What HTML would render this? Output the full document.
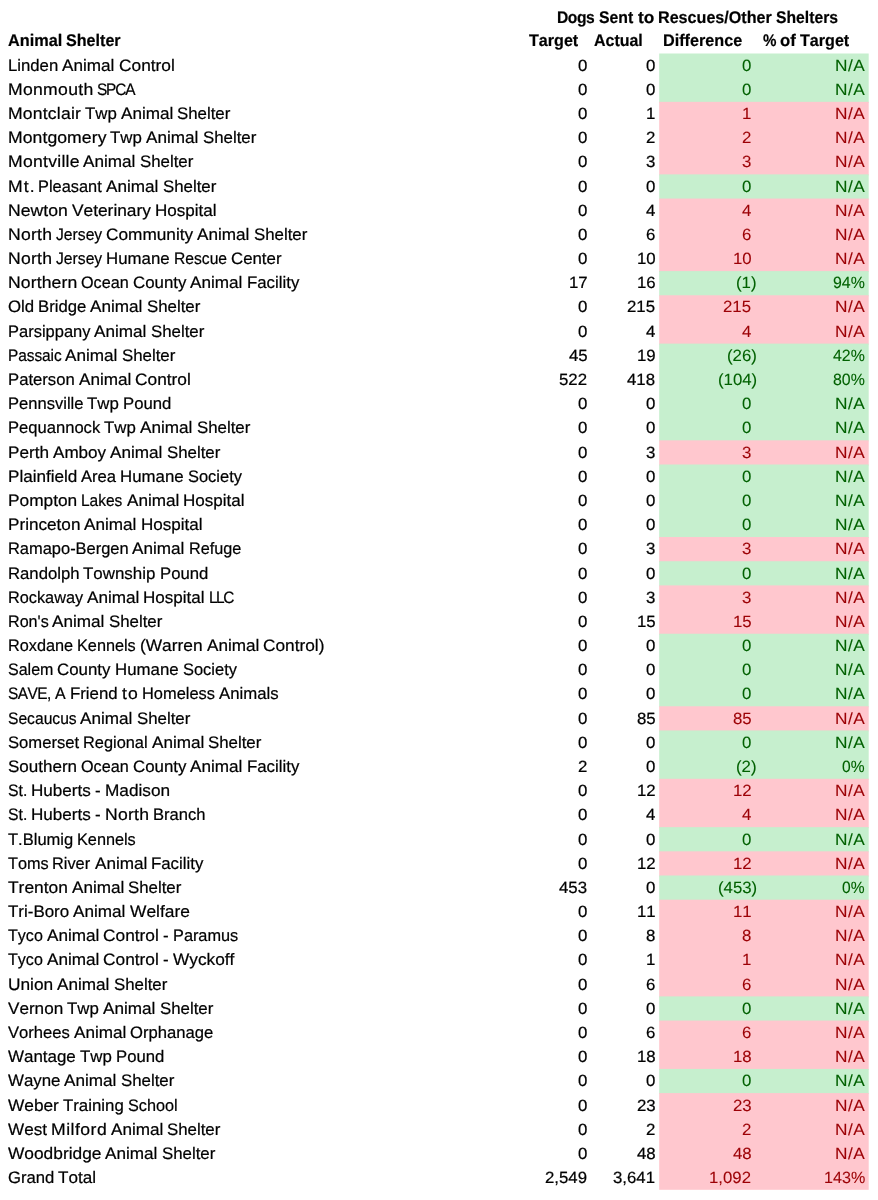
<!DOCTYPE html><html><head><meta charset="utf-8"><title>Dogs Sent to Rescues/Other Shelters</title><style>
html,body{margin:0;padding:0;background:#fff}
body{width:878px;height:1200px;position:relative;overflow:hidden;font-family:"Liberation Sans",sans-serif;font-size:16.6px;color:#000}
.t,.w{position:absolute;white-space:pre;font-kerning:none;line-height:24px;height:24px}
.w{transform-origin:0 50%}
.b{font-weight:bold}
.bg{position:absolute;left:659.2px;width:209.5px}
.g{color:#006100}.r{color:#9C0006}
.n{font-size:16.3px}.b{font-size:16.8px}.w{-webkit-text-stroke:0.22px}.w.b{-webkit-text-stroke:0.2px}.w.g,.w.r{-webkit-text-stroke:0.1px}#all{position:absolute;left:0;top:0;width:878px;height:1200px}#tx{position:absolute;left:0;top:0;width:878px;height:1200px;will-change:transform;text-rendering:geometricPrecision}</style></head><body>
<div id="all">
<svg id="bg" width="878" height="1200" viewBox="0 0 878 1200" style="position:absolute;left:0;top:0">
<rect x="659.2" y="53.50" width="209.5" height="49.35" fill="#C6EFCE"/>
<rect x="659.2" y="101.85" width="209.5" height="73.53" fill="#FFC7CE"/>
<rect x="659.2" y="174.38" width="209.5" height="25.18" fill="#C6EFCE"/>
<rect x="659.2" y="198.56" width="209.5" height="73.53" fill="#FFC7CE"/>
<rect x="659.2" y="271.09" width="209.5" height="25.18" fill="#C6EFCE"/>
<rect x="659.2" y="295.27" width="209.5" height="49.35" fill="#FFC7CE"/>
<rect x="659.2" y="343.62" width="209.5" height="97.71" fill="#C6EFCE"/>
<rect x="659.2" y="440.33" width="209.5" height="25.18" fill="#FFC7CE"/>
<rect x="659.2" y="464.50" width="209.5" height="73.53" fill="#C6EFCE"/>
<rect x="659.2" y="537.03" width="209.5" height="25.18" fill="#FFC7CE"/>
<rect x="659.2" y="561.21" width="209.5" height="25.18" fill="#C6EFCE"/>
<rect x="659.2" y="585.39" width="209.5" height="49.35" fill="#FFC7CE"/>
<rect x="659.2" y="633.74" width="209.5" height="73.53" fill="#C6EFCE"/>
<rect x="659.2" y="706.27" width="209.5" height="25.18" fill="#FFC7CE"/>
<rect x="659.2" y="730.44" width="209.5" height="49.35" fill="#C6EFCE"/>
<rect x="659.2" y="778.80" width="209.5" height="49.35" fill="#FFC7CE"/>
<rect x="659.2" y="827.15" width="209.5" height="25.18" fill="#C6EFCE"/>
<rect x="659.2" y="851.33" width="209.5" height="25.18" fill="#FFC7CE"/>
<rect x="659.2" y="875.50" width="209.5" height="25.18" fill="#C6EFCE"/>
<rect x="659.2" y="899.68" width="209.5" height="97.71" fill="#FFC7CE"/>
<rect x="659.2" y="996.39" width="209.5" height="25.18" fill="#C6EFCE"/>
<rect x="659.2" y="1020.56" width="209.5" height="49.35" fill="#FFC7CE"/>
<rect x="659.2" y="1068.92" width="209.5" height="25.18" fill="#C6EFCE"/>
<rect x="659.2" y="1093.09" width="209.5" height="96.71" fill="#FFC7CE"/>
</svg>
<div id="tx">
<span class="w b" style="left:557.39px;top:6.00px;letter-spacing:-0.493px;transform:scaleX(0.9300)">Dogs</span>
<span class="w b" style="left:599.20px;top:6.00px;transform:scaleX(0.9429)">Sent</span>
<span class="w b" style="left:637.67px;top:6.00px;transform:scaleX(1.0296)">to</span>
<span class="w b" style="left:658.16px;top:6.00px;transform:scaleX(0.9606)">Rescues/Other</span>
<span class="w b" style="left:776.11px;top:6.00px;transform:scaleX(0.9363)">Shelters</span>
<span class="w b" style="left:7.59px;top:29.47px;transform:scaleX(0.9693)">Animal</span>
<span class="w b" style="left:66.00px;top:29.47px;transform:scaleX(0.9605)">Shelter</span>
<span class="w b" style="left:528.89px;top:29.47px;transform:scaleX(0.9592)">Target</span>
<span class="w b" style="left:594.00px;top:29.47px;transform:scaleX(0.9516)">Actual</span>
<span class="w b" style="left:663.00px;top:29.47px;transform:scaleX(0.9654)">Difference</span>
<span class="w b" style="left:762.69px;top:29.47px;transform:scaleX(0.9016)">%</span>
<span class="w b" style="left:780.31px;top:29.47px;transform:scaleX(0.9941)">of</span>
<span class="w b" style="left:800.23px;top:29.47px;transform:scaleX(0.9592)">Target</span>
<span class="w" style="left:7.59px;top:53.65px;transform:scaleX(1.0075)">Linden</span>
<span class="w" style="left:61.98px;top:53.65px;transform:scaleX(1.0326)">Animal</span>
<span class="w" style="left:118.55px;top:53.65px;transform:scaleX(1.0432)">Control</span>
<span class="w n" style="left:578.05px;top:53.65px;transform:scaleX(1.0328)">0</span>
<span class="w n" style="left:645.84px;top:53.65px;transform:scaleX(1.0328)">0</span>
<span class="w n g" style="left:741.95px;top:53.65px;transform:scaleX(1.0328)">0</span>
<span class="w n g" style="left:835.30px;top:53.65px;letter-spacing:0.433px;transform:scaleX(1.0600)">N/A</span>
<span class="w" style="left:7.59px;top:77.83px;letter-spacing:0.280px;transform:scaleX(1.0600)">Monmouth</span>
<span class="w" style="left:96.95px;top:77.83px;letter-spacing:-1.263px;transform:scaleX(0.9300)">SPCA</span>
<span class="w n" style="left:578.05px;top:77.83px;transform:scaleX(1.0328)">0</span>
<span class="w n" style="left:645.84px;top:77.83px;transform:scaleX(1.0328)">0</span>
<span class="w n g" style="left:741.95px;top:77.83px;transform:scaleX(1.0328)">0</span>
<span class="w n g" style="left:835.30px;top:77.83px;letter-spacing:0.433px;transform:scaleX(1.0600)">N/A</span>
<span class="w" style="left:7.59px;top:102.02px;letter-spacing:0.178px;transform:scaleX(1.0600)">Montclair</span>
<span class="w" style="left:84.64px;top:102.02px;transform:scaleX(1.0159)">Twp</span>
<span class="w" style="left:120.67px;top:102.02px;transform:scaleX(1.0326)">Animal</span>
<span class="w" style="left:177.23px;top:102.02px;transform:scaleX(1.0146)">Shelter</span>
<span class="w n" style="left:578.05px;top:102.02px;transform:scaleX(1.0328)">0</span>
<span class="w n" style="left:645.84px;top:102.02px;transform:scaleX(1.0328)">1</span>
<span class="w n r" style="left:741.95px;top:102.02px;transform:scaleX(1.0328)">1</span>
<span class="w n r" style="left:835.30px;top:102.02px;letter-spacing:0.433px;transform:scaleX(1.0600)">N/A</span>
<span class="w" style="left:7.59px;top:126.20px;letter-spacing:0.070px;transform:scaleX(1.0600)">Montgomery</span>
<span class="w" style="left:110.20px;top:126.20px;transform:scaleX(1.0159)">Twp</span>
<span class="w" style="left:146.23px;top:126.20px;transform:scaleX(1.0326)">Animal</span>
<span class="w" style="left:202.80px;top:126.20px;transform:scaleX(1.0146)">Shelter</span>
<span class="w n" style="left:578.05px;top:126.20px;transform:scaleX(1.0328)">0</span>
<span class="w n" style="left:645.84px;top:126.20px;transform:scaleX(1.0328)">2</span>
<span class="w n r" style="left:741.95px;top:126.20px;transform:scaleX(1.0328)">2</span>
<span class="w n r" style="left:835.30px;top:126.20px;letter-spacing:0.433px;transform:scaleX(1.0600)">N/A</span>
<span class="w" style="left:7.59px;top:150.39px;letter-spacing:0.252px;transform:scaleX(1.0600)">Montville</span>
<span class="w" style="left:83.31px;top:150.39px;transform:scaleX(1.0326)">Animal</span>
<span class="w" style="left:139.88px;top:150.39px;transform:scaleX(1.0146)">Shelter</span>
<span class="w n" style="left:578.05px;top:150.39px;transform:scaleX(1.0328)">0</span>
<span class="w n" style="left:645.84px;top:150.39px;transform:scaleX(1.0328)">3</span>
<span class="w n r" style="left:741.95px;top:150.39px;transform:scaleX(1.0328)">3</span>
<span class="w n r" style="left:835.30px;top:150.39px;letter-spacing:0.433px;transform:scaleX(1.0600)">N/A</span>
<span class="w" style="left:7.59px;top:174.57px;letter-spacing:1.028px;transform:scaleX(1.0600)">Mt.</span>
<span class="w" style="left:38.38px;top:174.57px;transform:scaleX(0.9860)">Pleasant</span>
<span class="w" style="left:106.22px;top:174.57px;transform:scaleX(1.0326)">Animal</span>
<span class="w" style="left:162.78px;top:174.57px;transform:scaleX(1.0146)">Shelter</span>
<span class="w n" style="left:578.05px;top:174.57px;transform:scaleX(1.0328)">0</span>
<span class="w n" style="left:645.84px;top:174.57px;transform:scaleX(1.0328)">0</span>
<span class="w n g" style="left:741.95px;top:174.57px;transform:scaleX(1.0328)">0</span>
<span class="w n g" style="left:835.30px;top:174.57px;letter-spacing:0.433px;transform:scaleX(1.0600)">N/A</span>
<span class="w" style="left:7.59px;top:198.76px;letter-spacing:0.038px;transform:scaleX(1.0600)">Newton</span>
<span class="w" style="left:71.61px;top:198.76px;transform:scaleX(1.0436)">Veterinary</span>
<span class="w" style="left:154.72px;top:198.76px;transform:scaleX(1.0274)">Hospital</span>
<span class="w n" style="left:578.05px;top:198.76px;transform:scaleX(1.0328)">0</span>
<span class="w n" style="left:645.84px;top:198.76px;transform:scaleX(1.0328)">4</span>
<span class="w n r" style="left:741.95px;top:198.76px;transform:scaleX(1.0328)">4</span>
<span class="w n r" style="left:835.30px;top:198.76px;letter-spacing:0.433px;transform:scaleX(1.0600)">N/A</span>
<span class="w" style="left:7.59px;top:222.94px;letter-spacing:0.214px;transform:scaleX(1.0600)">North</span>
<span class="w" style="left:55.69px;top:222.94px;transform:scaleX(0.9457)">Jersey</span>
<span class="w" style="left:106.08px;top:222.94px;transform:scaleX(1.0384)">Community</span>
<span class="w" style="left:197.39px;top:222.94px;transform:scaleX(1.0326)">Animal</span>
<span class="w" style="left:253.95px;top:222.94px;transform:scaleX(1.0146)">Shelter</span>
<span class="w n" style="left:578.05px;top:222.94px;transform:scaleX(1.0328)">0</span>
<span class="w n" style="left:645.84px;top:222.94px;transform:scaleX(1.0328)">6</span>
<span class="w n r" style="left:741.95px;top:222.94px;transform:scaleX(1.0328)">6</span>
<span class="w n r" style="left:835.30px;top:222.94px;letter-spacing:0.433px;transform:scaleX(1.0600)">N/A</span>
<span class="w" style="left:7.59px;top:247.12px;letter-spacing:0.214px;transform:scaleX(1.0600)">North</span>
<span class="w" style="left:55.69px;top:247.12px;transform:scaleX(0.9457)">Jersey</span>
<span class="w" style="left:106.08px;top:247.12px;transform:scaleX(1.0139)">Humane</span>
<span class="w" style="left:173.86px;top:247.12px;transform:scaleX(0.9431)">Rescue</span>
<span class="w" style="left:231.09px;top:247.12px;transform:scaleX(1.0135)">Center</span>
<span class="w n" style="left:578.05px;top:247.12px;transform:scaleX(1.0328)">0</span>
<span class="w n" style="left:636.50px;top:247.12px;transform:scaleX(1.0319)">10</span>
<span class="w n r" style="left:732.61px;top:247.12px;transform:scaleX(1.0319)">10</span>
<span class="w n r" style="left:835.30px;top:247.12px;letter-spacing:0.433px;transform:scaleX(1.0600)">N/A</span>
<span class="w" style="left:7.59px;top:271.31px;letter-spacing:0.105px;transform:scaleX(1.0600)">Northern</span>
<span class="w" style="left:80.98px;top:271.31px;transform:scaleX(0.9757)">Ocean</span>
<span class="w" style="left:132.86px;top:271.31px;transform:scaleX(1.0166)">County</span>
<span class="w" style="left:190.48px;top:271.31px;transform:scaleX(1.0326)">Animal</span>
<span class="w" style="left:247.05px;top:271.31px;transform:scaleX(1.0133)">Facility</span>
<span class="w n" style="left:568.70px;top:271.31px;transform:scaleX(1.0319)">17</span>
<span class="w n" style="left:636.50px;top:271.31px;transform:scaleX(1.0319)">16</span>
<span class="w n g" style="left:736.38px;top:271.31px;transform:scaleX(1.0314)">(1)</span>
<span class="w n g" style="left:833.12px;top:271.31px;transform:scaleX(0.9779)">94%</span>
<span class="w" style="left:7.59px;top:295.49px;transform:scaleX(1.0121)">Old</span>
<span class="w" style="left:37.91px;top:295.49px;transform:scaleX(1.0055)">Bridge</span>
<span class="w" style="left:90.31px;top:295.49px;transform:scaleX(1.0326)">Animal</span>
<span class="w" style="left:146.88px;top:295.49px;transform:scaleX(1.0146)">Shelter</span>
<span class="w n" style="left:578.05px;top:295.49px;transform:scaleX(1.0328)">0</span>
<span class="w n" style="left:627.16px;top:295.49px;transform:scaleX(1.0322)">215</span>
<span class="w n r" style="left:723.27px;top:295.49px;transform:scaleX(1.0322)">215</span>
<span class="w n r" style="left:835.30px;top:295.49px;letter-spacing:0.433px;transform:scaleX(1.0600)">N/A</span>
<span class="w" style="left:7.59px;top:319.68px;transform:scaleX(0.9932)">Parsippany</span>
<span class="w" style="left:94.23px;top:319.68px;transform:scaleX(1.0326)">Animal</span>
<span class="w" style="left:150.80px;top:319.68px;transform:scaleX(1.0146)">Shelter</span>
<span class="w n" style="left:578.05px;top:319.68px;transform:scaleX(1.0328)">0</span>
<span class="w n" style="left:645.84px;top:319.68px;transform:scaleX(1.0328)">4</span>
<span class="w n r" style="left:741.95px;top:319.68px;transform:scaleX(1.0328)">4</span>
<span class="w n r" style="left:835.30px;top:319.68px;letter-spacing:0.433px;transform:scaleX(1.0600)">N/A</span>
<span class="w" style="left:7.59px;top:343.86px;letter-spacing:-0.072px;transform:scaleX(0.9300)">Passaic</span>
<span class="w" style="left:65.41px;top:343.86px;transform:scaleX(1.0326)">Animal</span>
<span class="w" style="left:121.97px;top:343.86px;transform:scaleX(1.0146)">Shelter</span>
<span class="w n" style="left:568.70px;top:343.86px;transform:scaleX(1.0319)">45</span>
<span class="w n" style="left:636.50px;top:343.86px;transform:scaleX(1.0319)">19</span>
<span class="w n g" style="left:727.03px;top:343.86px;transform:scaleX(1.0313)">(26)</span>
<span class="w n g" style="left:833.12px;top:343.86px;transform:scaleX(0.9779)">42%</span>
<span class="w" style="left:7.59px;top:368.04px;transform:scaleX(1.0052)">Paterson</span>
<span class="w" style="left:78.53px;top:368.04px;transform:scaleX(1.0326)">Animal</span>
<span class="w" style="left:135.09px;top:368.04px;transform:scaleX(1.0432)">Control</span>
<span class="w n" style="left:559.36px;top:368.04px;transform:scaleX(1.0322)">522</span>
<span class="w n" style="left:627.16px;top:368.04px;transform:scaleX(1.0322)">418</span>
<span class="w n g" style="left:717.69px;top:368.04px;transform:scaleX(1.0316)">(104)</span>
<span class="w n g" style="left:833.12px;top:368.04px;transform:scaleX(0.9779)">80%</span>
<span class="w" style="left:7.59px;top:392.23px;transform:scaleX(0.9979)">Pennsville</span>
<span class="w" style="left:87.25px;top:392.23px;transform:scaleX(1.0159)">Twp</span>
<span class="w" style="left:123.28px;top:392.23px;transform:scaleX(1.0068)">Pound</span>
<span class="w n" style="left:578.05px;top:392.23px;transform:scaleX(1.0328)">0</span>
<span class="w n" style="left:645.84px;top:392.23px;transform:scaleX(1.0328)">0</span>
<span class="w n g" style="left:741.95px;top:392.23px;transform:scaleX(1.0328)">0</span>
<span class="w n g" style="left:835.30px;top:392.23px;letter-spacing:0.433px;transform:scaleX(1.0600)">N/A</span>
<span class="w" style="left:7.59px;top:416.41px;transform:scaleX(0.9992)">Pequannock</span>
<span class="w" style="left:103.95px;top:416.41px;transform:scaleX(1.0159)">Twp</span>
<span class="w" style="left:139.98px;top:416.41px;transform:scaleX(1.0326)">Animal</span>
<span class="w" style="left:196.55px;top:416.41px;transform:scaleX(1.0146)">Shelter</span>
<span class="w n" style="left:578.05px;top:416.41px;transform:scaleX(1.0328)">0</span>
<span class="w n" style="left:645.84px;top:416.41px;transform:scaleX(1.0328)">0</span>
<span class="w n g" style="left:741.95px;top:416.41px;transform:scaleX(1.0328)">0</span>
<span class="w n g" style="left:835.30px;top:416.41px;letter-spacing:0.433px;transform:scaleX(1.0600)">N/A</span>
<span class="w" style="left:7.59px;top:440.60px;transform:scaleX(1.0335)">Perth</span>
<span class="w" style="left:52.77px;top:440.60px;transform:scaleX(1.0290)">Amboy</span>
<span class="w" style="left:110.09px;top:440.60px;transform:scaleX(1.0326)">Animal</span>
<span class="w" style="left:166.66px;top:440.60px;transform:scaleX(1.0146)">Shelter</span>
<span class="w n" style="left:578.05px;top:440.60px;transform:scaleX(1.0328)">0</span>
<span class="w n" style="left:645.84px;top:440.60px;transform:scaleX(1.0328)">3</span>
<span class="w n r" style="left:741.95px;top:440.60px;transform:scaleX(1.0328)">3</span>
<span class="w n r" style="left:835.30px;top:440.60px;letter-spacing:0.433px;transform:scaleX(1.0600)">N/A</span>
<span class="w" style="left:7.59px;top:464.78px;transform:scaleX(1.0299)">Plainfield</span>
<span class="w" style="left:81.12px;top:464.78px;transform:scaleX(1.0013)">Area</span>
<span class="w" style="left:120.41px;top:464.78px;transform:scaleX(1.0139)">Humane</span>
<span class="w" style="left:188.19px;top:464.78px;transform:scaleX(0.9908)">Society</span>
<span class="w n" style="left:578.05px;top:464.78px;transform:scaleX(1.0328)">0</span>
<span class="w n" style="left:645.84px;top:464.78px;transform:scaleX(1.0328)">0</span>
<span class="w n g" style="left:741.95px;top:464.78px;transform:scaleX(1.0328)">0</span>
<span class="w n g" style="left:835.30px;top:464.78px;letter-spacing:0.433px;transform:scaleX(1.0600)">N/A</span>
<span class="w" style="left:7.59px;top:488.97px;transform:scaleX(1.0426)">Pompton</span>
<span class="w" style="left:81.02px;top:488.97px;transform:scaleX(0.9340)">Lakes</span>
<span class="w" style="left:126.55px;top:488.97px;transform:scaleX(1.0326)">Animal</span>
<span class="w" style="left:183.11px;top:488.97px;transform:scaleX(1.0274)">Hospital</span>
<span class="w n" style="left:578.05px;top:488.97px;transform:scaleX(1.0328)">0</span>
<span class="w n" style="left:645.84px;top:488.97px;transform:scaleX(1.0328)">0</span>
<span class="w n g" style="left:741.95px;top:488.97px;transform:scaleX(1.0328)">0</span>
<span class="w n g" style="left:835.30px;top:488.97px;letter-spacing:0.433px;transform:scaleX(1.0600)">N/A</span>
<span class="w" style="left:7.59px;top:513.15px;transform:scaleX(1.0332)">Princeton</span>
<span class="w" style="left:84.20px;top:513.15px;transform:scaleX(1.0326)">Animal</span>
<span class="w" style="left:140.77px;top:513.15px;transform:scaleX(1.0274)">Hospital</span>
<span class="w n" style="left:578.05px;top:513.15px;transform:scaleX(1.0328)">0</span>
<span class="w n" style="left:645.84px;top:513.15px;transform:scaleX(1.0328)">0</span>
<span class="w n g" style="left:741.95px;top:513.15px;transform:scaleX(1.0328)">0</span>
<span class="w n g" style="left:835.30px;top:513.15px;letter-spacing:0.433px;transform:scaleX(1.0600)">N/A</span>
<span class="w" style="left:7.59px;top:537.33px;transform:scaleX(0.9908)">Ramapo-Bergen</span>
<span class="w" style="left:132.41px;top:537.33px;transform:scaleX(1.0326)">Animal</span>
<span class="w" style="left:188.97px;top:537.33px;transform:scaleX(0.9784)">Refuge</span>
<span class="w n" style="left:578.05px;top:537.33px;transform:scaleX(1.0328)">0</span>
<span class="w n" style="left:645.84px;top:537.33px;transform:scaleX(1.0328)">3</span>
<span class="w n r" style="left:741.95px;top:537.33px;transform:scaleX(1.0328)">3</span>
<span class="w n r" style="left:835.30px;top:537.33px;letter-spacing:0.433px;transform:scaleX(1.0600)">N/A</span>
<span class="w" style="left:7.59px;top:561.52px;transform:scaleX(1.0070)">Randolph</span>
<span class="w" style="left:83.31px;top:561.52px;transform:scaleX(1.0191)">Township</span>
<span class="w" style="left:159.88px;top:561.52px;transform:scaleX(1.0068)">Pound</span>
<span class="w n" style="left:578.05px;top:561.52px;transform:scaleX(1.0328)">0</span>
<span class="w n" style="left:645.84px;top:561.52px;transform:scaleX(1.0328)">0</span>
<span class="w n g" style="left:741.95px;top:561.52px;transform:scaleX(1.0328)">0</span>
<span class="w n g" style="left:835.30px;top:561.52px;letter-spacing:0.433px;transform:scaleX(1.0600)">N/A</span>
<span class="w" style="left:7.59px;top:585.70px;transform:scaleX(0.9812)">Rockaway</span>
<span class="w" style="left:86.88px;top:585.70px;transform:scaleX(1.0326)">Animal</span>
<span class="w" style="left:143.44px;top:585.70px;transform:scaleX(1.0274)">Hospital</span>
<span class="w" style="left:209.20px;top:585.70px;letter-spacing:-1.601px;transform:scaleX(0.9300)">LLC</span>
<span class="w n" style="left:578.05px;top:585.70px;transform:scaleX(1.0328)">0</span>
<span class="w n" style="left:645.84px;top:585.70px;transform:scaleX(1.0328)">3</span>
<span class="w n r" style="left:741.95px;top:585.70px;transform:scaleX(1.0328)">3</span>
<span class="w n r" style="left:835.30px;top:585.70px;letter-spacing:0.433px;transform:scaleX(1.0600)">N/A</span>
<span class="w" style="left:7.59px;top:609.89px;transform:scaleX(0.9713)">Ron's</span>
<span class="w" style="left:52.47px;top:609.89px;transform:scaleX(1.0326)">Animal</span>
<span class="w" style="left:109.03px;top:609.89px;transform:scaleX(1.0146)">Shelter</span>
<span class="w n" style="left:578.05px;top:609.89px;transform:scaleX(1.0328)">0</span>
<span class="w n" style="left:636.50px;top:609.89px;transform:scaleX(1.0319)">15</span>
<span class="w n r" style="left:732.61px;top:609.89px;transform:scaleX(1.0319)">15</span>
<span class="w n r" style="left:835.30px;top:609.89px;letter-spacing:0.433px;transform:scaleX(1.0600)">N/A</span>
<span class="w" style="left:7.59px;top:634.07px;transform:scaleX(0.9800)">Roxdane</span>
<span class="w" style="left:76.88px;top:634.07px;transform:scaleX(0.9797)">Kennels</span>
<span class="w" style="left:139.80px;top:634.07px;transform:scaleX(1.0435)">(Warren</span>
<span class="w" style="left:206.52px;top:634.07px;transform:scaleX(1.0326)">Animal</span>
<span class="w" style="left:263.08px;top:634.07px;transform:scaleX(1.0400)">Control)</span>
<span class="w n" style="left:578.05px;top:634.07px;transform:scaleX(1.0328)">0</span>
<span class="w n" style="left:645.84px;top:634.07px;transform:scaleX(1.0328)">0</span>
<span class="w n g" style="left:741.95px;top:634.07px;transform:scaleX(1.0328)">0</span>
<span class="w n g" style="left:835.30px;top:634.07px;letter-spacing:0.433px;transform:scaleX(1.0600)">N/A</span>
<span class="w" style="left:7.59px;top:658.26px;transform:scaleX(0.9658)">Salem</span>
<span class="w" style="left:57.20px;top:658.26px;transform:scaleX(1.0166)">County</span>
<span class="w" style="left:114.83px;top:658.26px;transform:scaleX(1.0139)">Humane</span>
<span class="w" style="left:182.61px;top:658.26px;transform:scaleX(0.9908)">Society</span>
<span class="w n" style="left:578.05px;top:658.26px;transform:scaleX(1.0328)">0</span>
<span class="w n" style="left:645.84px;top:658.26px;transform:scaleX(1.0328)">0</span>
<span class="w n g" style="left:741.95px;top:658.26px;transform:scaleX(1.0328)">0</span>
<span class="w n g" style="left:835.30px;top:658.26px;letter-spacing:0.433px;transform:scaleX(1.0600)">N/A</span>
<span class="w" style="left:7.59px;top:682.44px;letter-spacing:-0.605px;transform:scaleX(0.9300)">SAVE,</span>
<span class="w" style="left:54.98px;top:682.44px;transform:scaleX(0.9633)">A</span>
<span class="w" style="left:69.83px;top:682.44px;transform:scaleX(1.0136)">Friend</span>
<span class="w" style="left:121.69px;top:682.44px;letter-spacing:1.162px;transform:scaleX(1.0600)">to</span>
<span class="w" style="left:141.77px;top:682.44px;transform:scaleX(0.9888)">Homeless</span>
<span class="w" style="left:218.89px;top:682.44px;transform:scaleX(1.0095)">Animals</span>
<span class="w n" style="left:578.05px;top:682.44px;transform:scaleX(1.0328)">0</span>
<span class="w n" style="left:645.84px;top:682.44px;transform:scaleX(1.0328)">0</span>
<span class="w n g" style="left:741.95px;top:682.44px;transform:scaleX(1.0328)">0</span>
<span class="w n g" style="left:835.30px;top:682.44px;letter-spacing:0.433px;transform:scaleX(1.0600)">N/A</span>
<span class="w" style="left:7.59px;top:706.62px;transform:scaleX(0.9421)">Secaucus</span>
<span class="w" style="left:80.42px;top:706.62px;transform:scaleX(1.0326)">Animal</span>
<span class="w" style="left:136.98px;top:706.62px;transform:scaleX(1.0146)">Shelter</span>
<span class="w n" style="left:578.05px;top:706.62px;transform:scaleX(1.0328)">0</span>
<span class="w n" style="left:636.50px;top:706.62px;transform:scaleX(1.0319)">85</span>
<span class="w n r" style="left:732.61px;top:706.62px;transform:scaleX(1.0319)">85</span>
<span class="w n r" style="left:835.30px;top:706.62px;letter-spacing:0.433px;transform:scaleX(1.0600)">N/A</span>
<span class="w" style="left:7.59px;top:730.81px;transform:scaleX(1.0011)">Somerset</span>
<span class="w" style="left:82.86px;top:730.81px;transform:scaleX(0.9859)">Regional</span>
<span class="w" style="left:151.61px;top:730.81px;transform:scaleX(1.0326)">Animal</span>
<span class="w" style="left:208.17px;top:730.81px;transform:scaleX(1.0146)">Shelter</span>
<span class="w n" style="left:578.05px;top:730.81px;transform:scaleX(1.0328)">0</span>
<span class="w n" style="left:645.84px;top:730.81px;transform:scaleX(1.0328)">0</span>
<span class="w n g" style="left:741.95px;top:730.81px;transform:scaleX(1.0328)">0</span>
<span class="w n g" style="left:835.30px;top:730.81px;letter-spacing:0.433px;transform:scaleX(1.0600)">N/A</span>
<span class="w" style="left:7.59px;top:754.99px;transform:scaleX(1.0251)">Southern</span>
<span class="w" style="left:80.81px;top:754.99px;transform:scaleX(0.9757)">Ocean</span>
<span class="w" style="left:132.69px;top:754.99px;transform:scaleX(1.0166)">County</span>
<span class="w" style="left:190.31px;top:754.99px;transform:scaleX(1.0326)">Animal</span>
<span class="w" style="left:246.88px;top:754.99px;transform:scaleX(1.0133)">Facility</span>
<span class="w n" style="left:578.05px;top:754.99px;transform:scaleX(1.0328)">2</span>
<span class="w n" style="left:645.84px;top:754.99px;transform:scaleX(1.0328)">0</span>
<span class="w n g" style="left:736.38px;top:754.99px;transform:scaleX(1.0314)">(2)</span>
<span class="w n g" style="left:842.47px;top:754.99px;transform:scaleX(0.9569)">0%</span>
<span class="w" style="left:7.59px;top:779.18px;transform:scaleX(0.9515)">St.</span>
<span class="w" style="left:31.08px;top:779.18px;transform:scaleX(1.0301)">Huberts</span>
<span class="w" style="left:95.11px;top:779.18px;transform:scaleX(1.0226)">-</span>
<span class="w" style="left:104.94px;top:779.18px;transform:scaleX(1.0384)">Madison</span>
<span class="w n" style="left:578.05px;top:779.18px;transform:scaleX(1.0328)">0</span>
<span class="w n" style="left:636.50px;top:779.18px;transform:scaleX(1.0319)">12</span>
<span class="w n r" style="left:732.61px;top:779.18px;transform:scaleX(1.0319)">12</span>
<span class="w n r" style="left:835.30px;top:779.18px;letter-spacing:0.433px;transform:scaleX(1.0600)">N/A</span>
<span class="w" style="left:7.59px;top:803.36px;transform:scaleX(0.9515)">St.</span>
<span class="w" style="left:31.08px;top:803.36px;transform:scaleX(1.0301)">Huberts</span>
<span class="w" style="left:95.11px;top:803.36px;transform:scaleX(1.0226)">-</span>
<span class="w" style="left:104.94px;top:803.36px;letter-spacing:0.214px;transform:scaleX(1.0600)">North</span>
<span class="w" style="left:153.03px;top:803.36px;transform:scaleX(0.9979)">Branch</span>
<span class="w n" style="left:578.05px;top:803.36px;transform:scaleX(1.0328)">0</span>
<span class="w n" style="left:645.84px;top:803.36px;transform:scaleX(1.0328)">4</span>
<span class="w n r" style="left:741.95px;top:803.36px;transform:scaleX(1.0328)">4</span>
<span class="w n r" style="left:835.30px;top:803.36px;letter-spacing:0.433px;transform:scaleX(1.0600)">N/A</span>
<span class="w" style="left:7.59px;top:827.54px;transform:scaleX(0.9964)">T.Blumig</span>
<span class="w" style="left:77.00px;top:827.54px;transform:scaleX(0.9797)">Kennels</span>
<span class="w n" style="left:578.05px;top:827.54px;transform:scaleX(1.0328)">0</span>
<span class="w n" style="left:645.84px;top:827.54px;transform:scaleX(1.0328)">0</span>
<span class="w n g" style="left:741.95px;top:827.54px;transform:scaleX(1.0328)">0</span>
<span class="w n g" style="left:835.30px;top:827.54px;letter-spacing:0.433px;transform:scaleX(1.0600)">N/A</span>
<span class="w" style="left:7.59px;top:851.73px;transform:scaleX(0.9800)">Toms</span>
<span class="w" style="left:52.42px;top:851.73px;transform:scaleX(0.9855)">River</span>
<span class="w" style="left:94.77px;top:851.73px;transform:scaleX(1.0326)">Animal</span>
<span class="w" style="left:151.33px;top:851.73px;transform:scaleX(1.0133)">Facility</span>
<span class="w n" style="left:578.05px;top:851.73px;transform:scaleX(1.0328)">0</span>
<span class="w n" style="left:636.50px;top:851.73px;transform:scaleX(1.0319)">12</span>
<span class="w n r" style="left:732.61px;top:851.73px;transform:scaleX(1.0319)">12</span>
<span class="w n r" style="left:835.30px;top:851.73px;letter-spacing:0.433px;transform:scaleX(1.0600)">N/A</span>
<span class="w" style="left:7.59px;top:875.91px;transform:scaleX(1.0467)">Trenton</span>
<span class="w" style="left:71.62px;top:875.91px;transform:scaleX(1.0326)">Animal</span>
<span class="w" style="left:128.19px;top:875.91px;transform:scaleX(1.0146)">Shelter</span>
<span class="w n" style="left:559.36px;top:875.91px;transform:scaleX(1.0322)">453</span>
<span class="w n" style="left:645.84px;top:875.91px;transform:scaleX(1.0328)">0</span>
<span class="w n g" style="left:717.69px;top:875.91px;transform:scaleX(1.0316)">(453)</span>
<span class="w n g" style="left:842.47px;top:875.91px;transform:scaleX(0.9569)">0%</span>
<span class="w" style="left:7.59px;top:900.10px;transform:scaleX(1.0211)">Tri-Boro</span>
<span class="w" style="left:72.97px;top:900.10px;transform:scaleX(1.0326)">Animal</span>
<span class="w" style="left:129.53px;top:900.10px;transform:scaleX(1.0473)">Welfare</span>
<span class="w n" style="left:578.05px;top:900.10px;transform:scaleX(1.0328)">0</span>
<span class="w n" style="left:636.50px;top:900.10px;transform:scaleX(1.0319)">11</span>
<span class="w n r" style="left:732.61px;top:900.10px;transform:scaleX(1.0319)">11</span>
<span class="w n r" style="left:835.30px;top:900.10px;letter-spacing:0.433px;transform:scaleX(1.0600)">N/A</span>
<span class="w" style="left:7.59px;top:924.28px;transform:scaleX(0.9692)">Tyco</span>
<span class="w" style="left:46.62px;top:924.28px;transform:scaleX(1.0326)">Animal</span>
<span class="w" style="left:103.19px;top:924.28px;transform:scaleX(1.0432)">Control</span>
<span class="w" style="left:163.17px;top:924.28px;transform:scaleX(1.0226)">-</span>
<span class="w" style="left:173.00px;top:924.28px;transform:scaleX(0.9826)">Paramus</span>
<span class="w n" style="left:578.05px;top:924.28px;transform:scaleX(1.0328)">0</span>
<span class="w n" style="left:645.84px;top:924.28px;transform:scaleX(1.0328)">8</span>
<span class="w n r" style="left:741.95px;top:924.28px;transform:scaleX(1.0328)">8</span>
<span class="w n r" style="left:835.30px;top:924.28px;letter-spacing:0.433px;transform:scaleX(1.0600)">N/A</span>
<span class="w" style="left:7.59px;top:948.47px;transform:scaleX(0.9692)">Tyco</span>
<span class="w" style="left:46.62px;top:948.47px;transform:scaleX(1.0326)">Animal</span>
<span class="w" style="left:103.19px;top:948.47px;transform:scaleX(1.0432)">Control</span>
<span class="w" style="left:163.17px;top:948.47px;transform:scaleX(1.0226)">-</span>
<span class="w" style="left:173.00px;top:948.47px;transform:scaleX(1.0408)">Wyckoff</span>
<span class="w n" style="left:578.05px;top:948.47px;transform:scaleX(1.0328)">0</span>
<span class="w n" style="left:645.84px;top:948.47px;transform:scaleX(1.0328)">1</span>
<span class="w n r" style="left:741.95px;top:948.47px;transform:scaleX(1.0328)">1</span>
<span class="w n r" style="left:835.30px;top:948.47px;letter-spacing:0.433px;transform:scaleX(1.0600)">N/A</span>
<span class="w" style="left:7.59px;top:972.65px;transform:scaleX(1.0418)">Union</span>
<span class="w" style="left:56.94px;top:972.65px;transform:scaleX(1.0326)">Animal</span>
<span class="w" style="left:113.50px;top:972.65px;transform:scaleX(1.0146)">Shelter</span>
<span class="w n" style="left:578.05px;top:972.65px;transform:scaleX(1.0328)">0</span>
<span class="w n" style="left:645.84px;top:972.65px;transform:scaleX(1.0328)">6</span>
<span class="w n r" style="left:741.95px;top:972.65px;transform:scaleX(1.0328)">6</span>
<span class="w n r" style="left:835.30px;top:972.65px;letter-spacing:0.433px;transform:scaleX(1.0600)">N/A</span>
<span class="w" style="left:7.59px;top:996.83px;transform:scaleX(1.0309)">Vernon</span>
<span class="w" style="left:66.94px;top:996.83px;transform:scaleX(1.0159)">Twp</span>
<span class="w" style="left:102.97px;top:996.83px;transform:scaleX(1.0326)">Animal</span>
<span class="w" style="left:159.53px;top:996.83px;transform:scaleX(1.0146)">Shelter</span>
<span class="w n" style="left:578.05px;top:996.83px;transform:scaleX(1.0328)">0</span>
<span class="w n" style="left:645.84px;top:996.83px;transform:scaleX(1.0328)">0</span>
<span class="w n g" style="left:741.95px;top:996.83px;transform:scaleX(1.0328)">0</span>
<span class="w n g" style="left:835.30px;top:996.83px;letter-spacing:0.433px;transform:scaleX(1.0600)">N/A</span>
<span class="w" style="left:7.59px;top:1021.02px;transform:scaleX(1.0008)">Vorhees</span>
<span class="w" style="left:73.62px;top:1021.02px;transform:scaleX(1.0326)">Animal</span>
<span class="w" style="left:130.19px;top:1021.02px;transform:scaleX(1.0021)">Orphanage</span>
<span class="w n" style="left:578.05px;top:1021.02px;transform:scaleX(1.0328)">0</span>
<span class="w n" style="left:645.84px;top:1021.02px;transform:scaleX(1.0328)">6</span>
<span class="w n r" style="left:741.95px;top:1021.02px;transform:scaleX(1.0328)">6</span>
<span class="w n r" style="left:835.30px;top:1021.02px;letter-spacing:0.433px;transform:scaleX(1.0600)">N/A</span>
<span class="w" style="left:7.59px;top:1045.20px;transform:scaleX(1.0205)">Wantage</span>
<span class="w" style="left:79.55px;top:1045.20px;transform:scaleX(1.0159)">Twp</span>
<span class="w" style="left:115.58px;top:1045.20px;transform:scaleX(1.0068)">Pound</span>
<span class="w n" style="left:578.05px;top:1045.20px;transform:scaleX(1.0328)">0</span>
<span class="w n" style="left:636.50px;top:1045.20px;transform:scaleX(1.0319)">18</span>
<span class="w n r" style="left:732.61px;top:1045.20px;transform:scaleX(1.0319)">18</span>
<span class="w n r" style="left:835.30px;top:1045.20px;letter-spacing:0.433px;transform:scaleX(1.0600)">N/A</span>
<span class="w" style="left:7.59px;top:1069.39px;transform:scaleX(1.0154)">Wayne</span>
<span class="w" style="left:64.22px;top:1069.39px;transform:scaleX(1.0326)">Animal</span>
<span class="w" style="left:120.78px;top:1069.39px;transform:scaleX(1.0146)">Shelter</span>
<span class="w n" style="left:578.05px;top:1069.39px;transform:scaleX(1.0328)">0</span>
<span class="w n" style="left:645.84px;top:1069.39px;transform:scaleX(1.0328)">0</span>
<span class="w n g" style="left:741.95px;top:1069.39px;transform:scaleX(1.0328)">0</span>
<span class="w n g" style="left:835.30px;top:1069.39px;letter-spacing:0.433px;transform:scaleX(1.0600)">N/A</span>
<span class="w" style="left:7.59px;top:1093.57px;transform:scaleX(1.0409)">Weber</span>
<span class="w" style="left:62.64px;top:1093.57px;transform:scaleX(1.0136)">Training</span>
<span class="w" style="left:127.58px;top:1093.57px;transform:scaleX(0.9781)">School</span>
<span class="w n" style="left:578.05px;top:1093.57px;transform:scaleX(1.0328)">0</span>
<span class="w n" style="left:636.50px;top:1093.57px;transform:scaleX(1.0319)">23</span>
<span class="w n r" style="left:732.61px;top:1093.57px;transform:scaleX(1.0319)">23</span>
<span class="w n r" style="left:835.30px;top:1093.57px;letter-spacing:0.433px;transform:scaleX(1.0600)">N/A</span>
<span class="w" style="left:7.59px;top:1117.75px;transform:scaleX(1.0306)">West</span>
<span class="w" style="left:50.73px;top:1117.75px;letter-spacing:0.459px;transform:scaleX(1.0600)">Milford</span>
<span class="w" style="left:110.61px;top:1117.75px;transform:scaleX(1.0326)">Animal</span>
<span class="w" style="left:167.17px;top:1117.75px;transform:scaleX(1.0146)">Shelter</span>
<span class="w n" style="left:578.05px;top:1117.75px;transform:scaleX(1.0328)">0</span>
<span class="w n" style="left:645.84px;top:1117.75px;transform:scaleX(1.0328)">2</span>
<span class="w n r" style="left:741.95px;top:1117.75px;transform:scaleX(1.0328)">2</span>
<span class="w n r" style="left:835.30px;top:1117.75px;letter-spacing:0.433px;transform:scaleX(1.0600)">N/A</span>
<span class="w" style="left:7.59px;top:1141.94px;transform:scaleX(1.0440)">Woodbridge</span>
<span class="w" style="left:105.19px;top:1141.94px;transform:scaleX(1.0326)">Animal</span>
<span class="w" style="left:161.75px;top:1141.94px;transform:scaleX(1.0146)">Shelter</span>
<span class="w n" style="left:578.05px;top:1141.94px;transform:scaleX(1.0328)">0</span>
<span class="w n" style="left:636.50px;top:1141.94px;transform:scaleX(1.0319)">48</span>
<span class="w n r" style="left:732.61px;top:1141.94px;transform:scaleX(1.0319)">48</span>
<span class="w n r" style="left:835.30px;top:1141.94px;letter-spacing:0.433px;transform:scaleX(1.0600)">N/A</span>
<span class="w" style="left:7.59px;top:1166.12px;transform:scaleX(1.0030)">Grand</span>
<span class="w" style="left:58.03px;top:1166.12px;transform:scaleX(1.0288)">Total</span>
<span class="w n" style="left:545.42px;top:1166.12px;transform:scaleX(1.0303)">2,549</span>
<span class="w n" style="left:613.22px;top:1166.12px;transform:scaleX(1.0303)">3,641</span>
<span class="w n r" style="left:709.33px;top:1166.12px;transform:scaleX(1.0303)">1,092</span>
<span class="w n r" style="left:823.78px;top:1166.12px;transform:scaleX(0.9895)">143%</span>
</div>
</div>
</body></html>
